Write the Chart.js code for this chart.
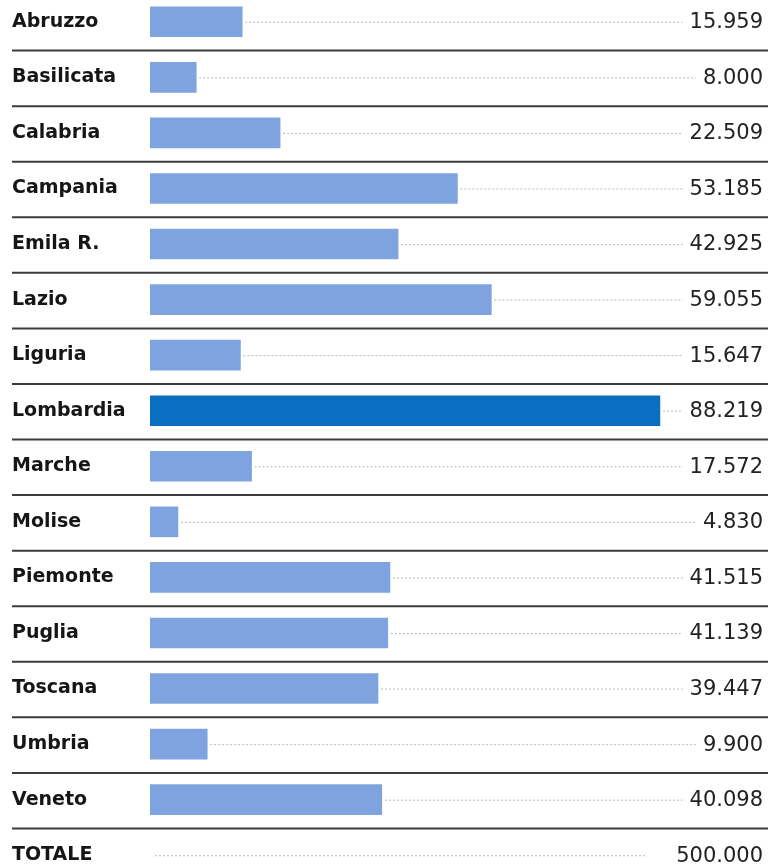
<!DOCTYPE html>
<html>
<head>
<meta charset="utf-8">
<script src="https://cdn.jsdelivr.net/npm/chart.js@4.4.1/dist/chart.umd.min.js"></script>
<style>
  html, body { margin: 0; padding: 0; background: #fff; }
  #wrap { position: relative; width: 768px; height: 864px; overflow: hidden; }
  #wrap canvas { position: absolute; left: 0; top: -6px; }
</style>
</head>
<body>
<div id="wrap"><canvas id="barChart" width="768" height="889"></canvas></div>
<script>
const regions = ['Abruzzo', 'Basilicata', 'Calabria', 'Campania', 'Emila R.', 'Lazio', 'Liguria', 'Lombardia',
  'Marche', 'Molise', 'Piemonte', 'Puglia', 'Toscana', 'Umbria', 'Veneto'];
const values = [15959, 8000, 22509, 53185, 42925, 59055, 15647, 88219, 17572, 4830, 41515, 41139, 39447, 9900, 40098];
const highlight = 'Lombardia';
const totalLabel = 'TOTALE';
const totalValue = 500000;

const labels = regions.concat([totalLabel]);
const barData = values.concat([null]);

// 15959 -> "15.959"
function fmt(n) {
    return String(n).replace(/\B(?=(\d{3})+(?!\d))/g, '.');
}

const rowsPlugin = {
    id: 'rows',
    afterDraw(chart) {
        const { ctx, scales: { x, y }, chartArea } = chart;
        const rowH = y.getPixelForValue(1) - y.getPixelForValue(0);
        const rightX = 763;
        ctx.save();
        labels.forEach((lab, i) => {
            const cy = y.getPixelForValue(i);
            const isTotal = i === labels.length - 1;
            const v = isTotal ? totalValue : values[i];
            const txt = fmt(v);

            ctx.font = '21px "DejaVu Sans"';
            ctx.fillStyle = '#222';
            ctx.textAlign = 'right';
            ctx.textBaseline = 'middle';
            ctx.fillText(txt, rightX, cy + 1);
            const tw = ctx.measureText(txt).width;

            // dotted leader line
            const x0 = isTotal ? chartArea.left + 5 : x.getPixelForValue(v) + 3;
            const x1 = isTotal ? rightX - tw - 30 : rightX - tw - 7;
            ctx.strokeStyle = '#b8b8b8';
            ctx.lineWidth = 1;
            ctx.setLineDash([2, 2]);
            ctx.beginPath();
            ctx.moveTo(x0, cy + 0.5);
            ctx.lineTo(x1, cy + 0.5);
            ctx.stroke();

            // row separator
            if (!isTotal) {
                ctx.setLineDash([]);
                ctx.strokeStyle = '#3c3c3c';
                ctx.lineWidth = 2;
                ctx.beginPath();
                ctx.moveTo(12, cy + rowH / 2 + 1);
                ctx.lineTo(768, cy + rowH / 2 + 1);
                ctx.stroke();
            }
        });
        ctx.restore();
    }
};

const ctx = document.getElementById('barChart').getContext('2d');

const barChart = new Chart(ctx, {
    type: 'bar',
    data: {
        labels: labels,
        datasets: [{
            data: barData,
            backgroundColor: labels.map(l => l === highlight ? '#0b6fc1' : '#7ea3df'),
            borderWidth: 0,
            barThickness: 30
        }]
    },
    options: {
        indexAxis: 'y',
        responsive: false,
        animation: false,
        layout: { padding: { left: 12, right: 40, top: 0, bottom: 0 } },
        scales: {
            x: {
                display: false,
                min: 0,
                max: 100000
            },
            y: {
                grid: { display: false },
                border: { display: false },
                afterFit(scale) {
                    scale.width = 138;
                    scale.paddingTop = 0;
                    scale.paddingBottom = 0;
                },
                ticks: {
                    crossAlign: 'far',
                    padding: 0,
                    color: '#161616',
                    font: { family: '"DejaVu Sans"', size: 19, weight: 'bold' }
                }
            }
        },
        plugins: {
            legend: { display: false },
            tooltip: { enabled: false }
        }
    },
    plugins: [rowsPlugin]
});
</script>
</body>
</html>
